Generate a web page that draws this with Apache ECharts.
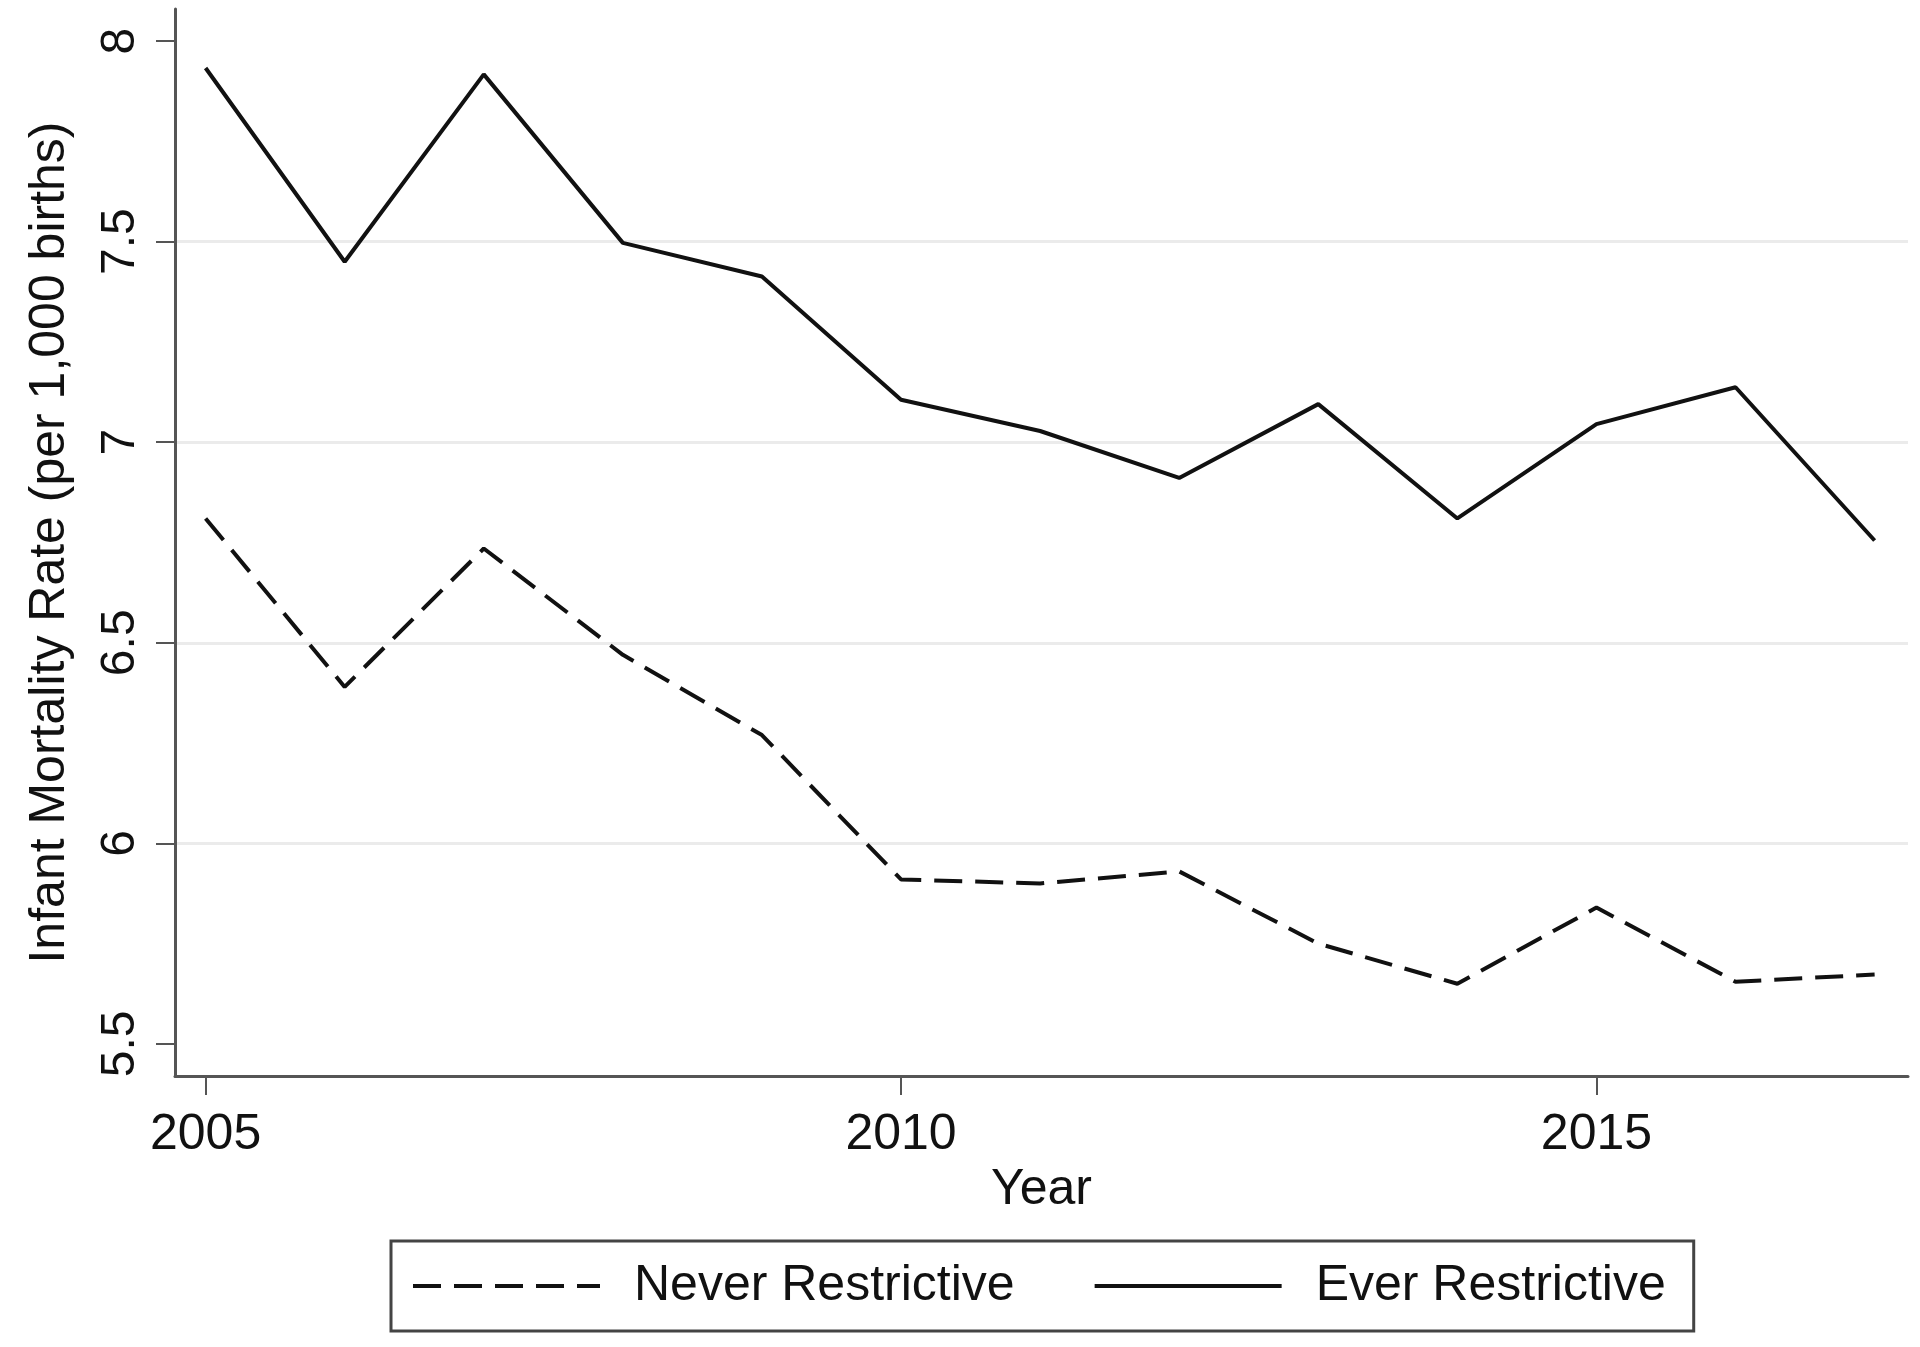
<!DOCTYPE html>
<html>
<head>
<meta charset="utf-8">
<script src="https://cdn.jsdelivr.net/npm/echarts@6/dist/echarts.min.js"></script>
<style>
html,body{margin:0;padding:0;background:#fff;}
#chart{width:1920px;height:1347px;}
</style>
</head>
<body>
<div id="chart"></div>
<script>
const years = [2005,2006,2007,2008,2009,2010,2011,2012,2013,2014,2015,2016,2017];
const neverRestrictive = [6.81,6.39,6.735,6.47,6.27,5.91,5.90,5.93,5.75,5.65,5.84,5.655,5.673];
const everRestrictive = [7.933,7.45,7.917,7.497,7.413,7.106,7.028,6.911,7.095,6.81,7.045,7.137,6.755];
const xTicks = [2005,2010,2015];
const yTicks = [5.5,6,6.5,7,7.5,8];

const FONT = '"Liberation Sans", Arial, sans-serif';
const TXT = '#111111';

const chart = echarts.init(document.getElementById('chart'));
chart.setOption({
  backgroundColor: '#ffffff',
  animation: false,
  textStyle: {fontFamily: FONT},
  grid: {left: 175, right: 12, top: 9, bottom: 271, outerBoundsMode: 'none', containLabel: false},
  xAxis: {
    type: 'value', min: 2004.78, max: 2017.24,
    name: 'Year', nameLocation: 'middle', nameGap: 85,
    nameTextStyle: {fontSize: 50, color: TXT, fontFamily: FONT},
    axisLine: {show: true, onZero: false, lineStyle: {color: '#555', width: 3}},
    axisTick: {show: true, length: 19, inside: false, customValues: xTicks, lineStyle: {color: '#555', width: 2}},
    axisLabel: {customValues: xTicks, fontSize: 50, color: TXT, margin: 34, fontFamily: FONT, formatter: v => String(v)},
    splitLine: {show: false}
  },
  yAxis: {
    type: 'value', min: 5.42, max: 8.08,
    name: 'Infant Mortality Rate (per 1,000 births)', nameLocation: 'middle', nameGap: 100, nameRotate: 90,
    nameTextStyle: {fontSize: 50, color: TXT, fontFamily: FONT},
    axisLine: {show: true, onZero: false, lineStyle: {color: '#555', width: 3}},
    axisTick: {show: true, length: 19, inside: false, customValues: yTicks, lineStyle: {color: '#555', width: 2}},
    axisLabel: {customValues: yTicks, rotate: 90, fontSize: 48, color: TXT, margin: 30, fontFamily: FONT, formatter: v => String(v)},
    splitLine: {show: true, showMinLine: false, showMaxLine: false, lineStyle: {color: '#ebebeb', width: 3}}
  },
  legend: {
    show: true,
    left: 391, top: 1241,
    orient: 'horizontal',
    padding: [20, 28, 20, 20],
    itemGap: 78,
    itemWidth: 187, itemHeight: 20,
    borderColor: '#444', borderWidth: 3,
    itemStyle: {color: 'rgba(0,0,0,0)', borderWidth: 0, opacity: 0},
    lineStyle: {width: 4},
    textStyle: {fontSize: 50, color: TXT, fontFamily: FONT, padding: [0, 0, 0, 29]},
    data: ['Never Restrictive', 'Ever Restrictive']
  },
  series: [
    {
      name: 'Never Restrictive', type: 'line', symbol: 'none',
      data: years.map((y, i) => [y, neverRestrictive[i]]),
      lineStyle: {color: '#111', width: 4, type: [28, 13]},
      itemStyle: {color: '#111'}
    },
    {
      name: 'Ever Restrictive', type: 'line', symbol: 'none',
      data: years.map((y, i) => [y, everRestrictive[i]]),
      lineStyle: {color: '#111', width: 4, type: 'solid'},
      itemStyle: {color: '#111'}
    }
  ]
});
</script>
</body>
</html>
